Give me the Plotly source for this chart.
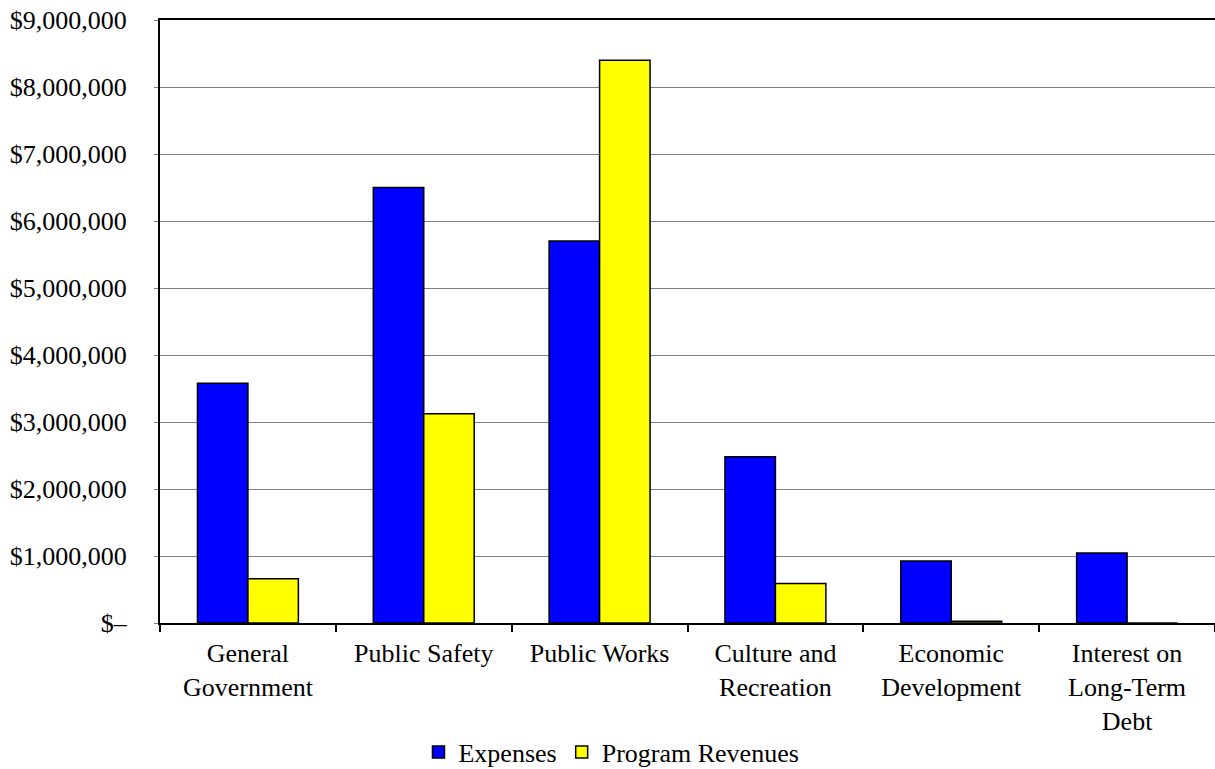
import plotly.graph_objects as go

# Governmental activities: expenses vs. program revenues by function
categories = [
    "General<br>Government",
    "Public Safety",
    "Public Works",
    "Culture and<br>Recreation",
    "Economic<br>Development",
    "Interest on<br>Long-Term<br>Debt",
]
expenses = [3580000, 6500000, 5700000, 2480000, 925000, 1045000]
program_revenues = [660000, 3125000, 8400000, 590000, 25000, 0]

y_tick_values = [0, 1000000, 2000000, 3000000, 4000000, 5000000,
                 6000000, 7000000, 8000000, 9000000]
y_tick_labels = ["$–", "$1,000,000", "$2,000,000", "$3,000,000", "$4,000,000",
                 "$5,000,000", "$6,000,000", "$7,000,000", "$8,000,000", "$9,000,000"]

FONT = "Liberation Serif, Times New Roman, serif"

fig = go.Figure()
fig.add_trace(go.Bar(
    name="Expenses", x=categories, y=expenses,
    marker=dict(color="#0000FF", line=dict(color="black", width=1.5)),
))
fig.add_trace(go.Bar(
    name="Program Revenues", x=categories, y=program_revenues,
    marker=dict(color="#FFFF00", line=dict(color="black", width=1.5)),
))

fig.update_layout(
    width=1215, height=769,
    margin=dict(l=160, r=0, t=20, b=146, autoexpand=False),
    paper_bgcolor="white", plot_bgcolor="white",
    font=dict(family=FONT, size=26, color="black"),
    barmode="group", bargap=0.426, bargroupgap=0,
    showlegend=True,
    legend=dict(
        orientation="h", x=0.245, xanchor="left",
        yref="container", y=0.022, yanchor="middle",
        font=dict(family=FONT, size=26), itemclick=False,
        tracegroupgap=0,
    ),
)
fig.update_xaxes(
    showline=True, linecolor="black", linewidth=2, mirror=True,
    ticks="outside", tickson="boundaries", ticklen=7, tickwidth=1.5, tickcolor="black",
    showgrid=False, ticklabelstandoff=6, tickfont=dict(family=FONT, size=26),
)
fig.update_yaxes(
    range=[0, 9000000], tickvals=y_tick_values, ticktext=y_tick_labels,
    showline=True, linecolor="black", linewidth=2,
    showgrid=True, gridcolor="#808080", gridwidth=1,
    ticks="outside", ticklen=4, tickcolor="#808080",
    ticklabelstandoff=22, zeroline=False,
    tickfont=dict(family=FONT, size=26),
)

fig.write_html("out.html")
